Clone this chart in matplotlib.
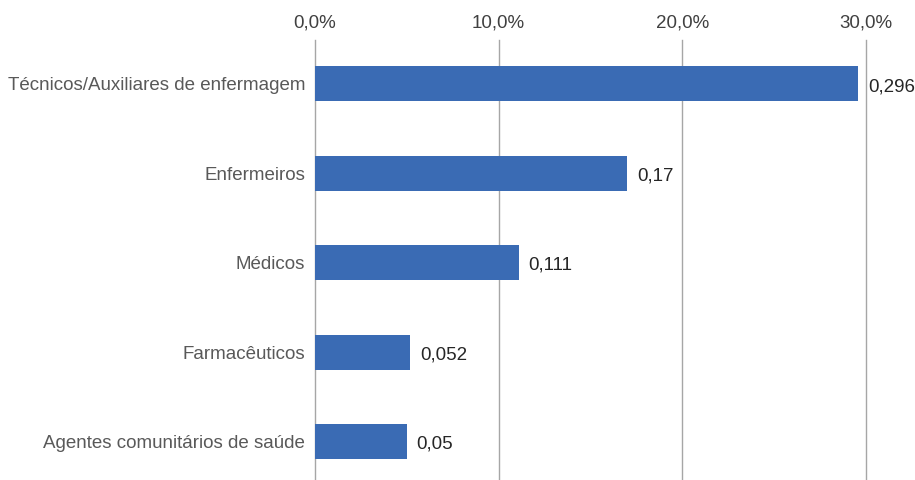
import matplotlib.pyplot as plt
from matplotlib.ticker import FuncFormatter

plt.rcParams['font.family'] = ['Liberation Sans', 'DejaVu Sans']

categorias = ['Técnicos/Auxiliares de enfermagem', 'Enfermeiros', 'Médicos',
              'Farmacêuticos', 'Agentes comunitários de saúde']
valores = [0.296, 0.17, 0.111, 0.052, 0.05]
rotulos = ['0,296', '0,17', '0,111', '0,052', '0,05']
ticks_x = [0.0, 0.1, 0.2, 0.3]

fig = plt.figure(figsize=(9.15, 4.8), dpi=100)
ax = fig.add_axes([315 / 915, 0.0, 550.7 / 915, 1 - 40 / 480])

y = list(range(len(categorias)))
ax.barh(y, valores, height=0.39, color='#3A6BB4', zorder=3)

for yi, v, txt in zip(y, valores, rotulos):
    ax.annotate(txt, (v, yi), xytext=(7, -2), textcoords='offset points',
                ha='left', va='center', fontsize=13.5, color='#262626')

ax.set_xlim(0, 0.3)
ax.set_ylim(4.43, -0.49)
ax.set_xticks(ticks_x)
ax.xaxis.set_major_formatter(FuncFormatter(lambda v, p: f'{v * 100:.1f}%'.replace('.', ',')))
ax.xaxis.tick_top()
ax.tick_params(axis='x', length=0, pad=6, labelsize=13.5, labelcolor='#404040')
ax.set_yticks(y)
ax.set_yticklabels(categorias)
ax.tick_params(axis='y', length=0, pad=7, labelsize=13.5, labelcolor='#595959')

# linhas de grade verticais (sem recorte nas bordas)
for xt in ticks_x:
    ax.axvline(xt, color='#A6A6A6', linewidth=1.0, zorder=0, clip_on=False)
for s in ax.spines.values():
    s.set_visible(False)

fig.savefig('out.png', dpi=100)
